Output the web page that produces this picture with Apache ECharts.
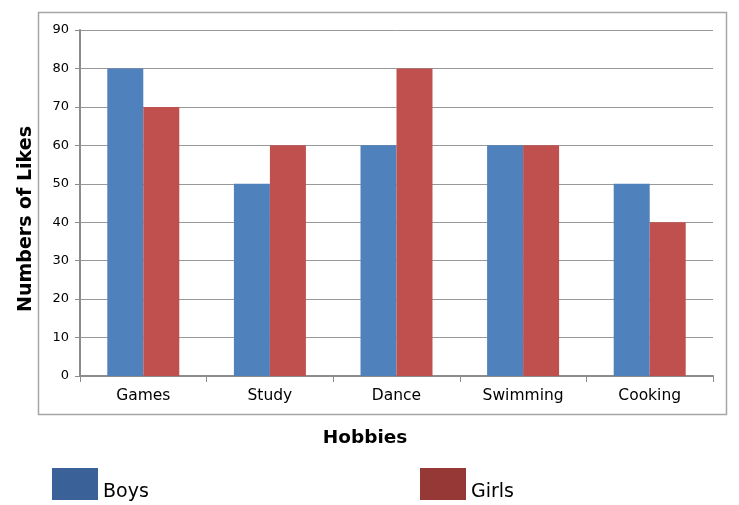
<!DOCTYPE html>
<html>
<head>
<meta charset="utf-8">
<script src="https://cdn.jsdelivr.net/npm/echarts@6/dist/echarts.min.js"></script>
<style>
  html, body { margin: 0; padding: 0; background: #fff; }
  #main { width: 739px; height: 505px; }
</style>
</head>
<body>
<div id="main"></div>
<script>
var hobbies = ['Games', 'Study', 'Dance', 'Swimming', 'Cooking'];
var boys = [80, 50, 60, 60, 50];
var girls = [70, 60, 80, 60, 40];

var font = 'DejaVu Sans';
var myChart = echarts.init(document.getElementById('main'));

function legendAt(left, name, color) {
  return {
    left: left, top: 468, padding: 0,
    itemWidth: 46, itemHeight: 32, itemGap: 6,
    icon: 'rect',
    data: [{name: name, itemStyle: {color: color}}],
    formatter: '{a|{name}}',
    textStyle: {
      rich: {a: {fontFamily: font, fontSize: 19, color: '#000', padding: [16, 0, 0, 0]}}
    }
  };
}

var option = {
  animation: false,
  textStyle: {fontFamily: font},
  grid: {left: 80, top: 30, right: 26, bottom: 129},
  graphic: [
    {
      type: 'rect',
      shape: {x: 38.5, y: 12.5, width: 688, height: 402},
      style: {fill: 'none', stroke: '#a6a6a6', lineWidth: 1.5},
      z: -1
    },
    {
      type: 'text',
      x: 365, y: 438,
      style: {text: 'Hobbies', font: 'bold 18.5px "DejaVu Sans"', fill: '#000',
        align: 'center', verticalAlign: 'middle'}
    },
    {
      type: 'text',
      x: 26, y: 219, rotation: Math.PI / 2,
      style: {text: 'Numbers of Likes', font: 'bold 19px "DejaVu Sans"', fill: '#000',
        align: 'center', verticalAlign: 'middle'}
    }
  ],
  legend: [
    legendAt(52, 'Boys', '#3a6298'),
    legendAt(420, 'Girls', '#963836')
  ],
  xAxis: {
    type: 'category',
    data: hobbies,
    axisLine: {lineStyle: {color: '#8c8c8c', width: 2}},
    axisTick: {show: true, length: 6, lineStyle: {color: '#8c8c8c'}},
    axisLabel: {color: '#000', fontSize: 15.5, margin: 12, fontFamily: font}
  },
  yAxis: {
    type: 'value',
    min: 0, max: 90, interval: 10,
    axisLine: {show: true, lineStyle: {color: '#8c8c8c', width: 2}},
    axisTick: {show: true, length: 5, lineStyle: {color: '#8c8c8c'}},
    axisLabel: {color: '#000', fontSize: 13, margin: 11, fontFamily: font},
    splitLine: {lineStyle: {color: '#999', width: 1}}
  },
  series: [
    {
      name: 'Boys', type: 'bar', data: boys,
      barWidth: 36, barGap: '0%',
      itemStyle: {color: '#4f81bd'}
    },
    {
      name: 'Girls', type: 'bar', data: girls,
      barWidth: 36, barGap: '0%',
      itemStyle: {color: '#c0504d'}
    }
  ]
};

myChart.setOption(option);
</script>
</body>
</html>
